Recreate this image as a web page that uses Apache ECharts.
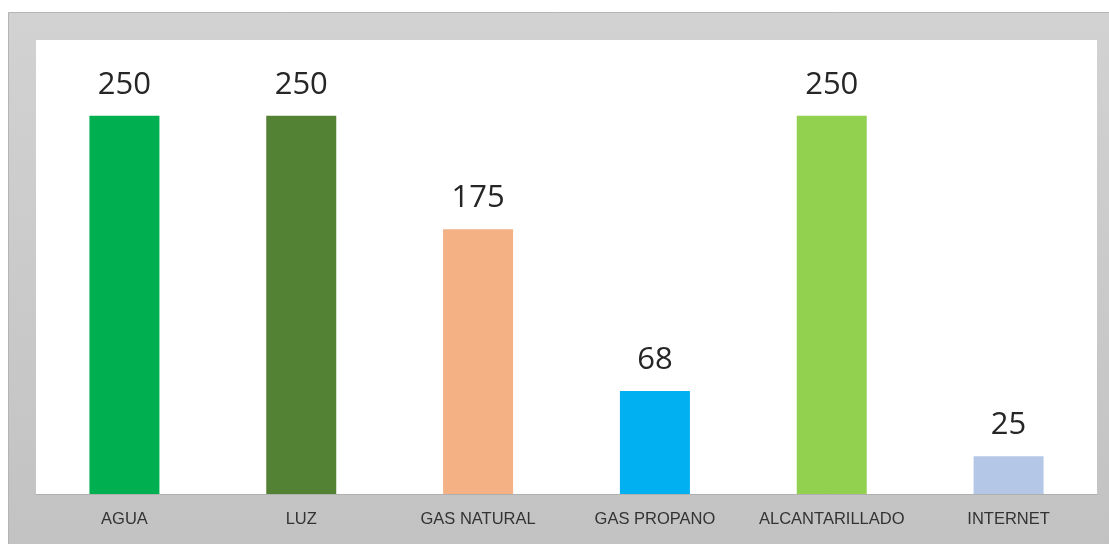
<!DOCTYPE html>
<html>
<head>
<meta charset="utf-8">
<script src="https://cdn.jsdelivr.net/npm/echarts@6/dist/echarts.min.js"></script>
<style>
html,body{margin:0;padding:0;background:#fff;}
#chart{width:1109px;height:544px;}
</style>
</head>
<body>
<div id="chart"></div>
<script>
var categories = ['AGUA', 'LUZ', 'GAS NATURAL', 'GAS PROPANO', 'ALCANTARILLADO', 'INTERNET'];
var values = [250, 250, 175, 68, 250, 25];
var barColors = ['#00b050', '#548235', '#f4b183', '#00b0f0', '#92d050', '#b4c7e7'];

var chart = echarts.init(document.getElementById('chart'), null, {renderer: 'canvas'});
chart.setOption({
  animation: false,
  backgroundColor: '#ffffff',
  graphic: [{
    type: 'rect',
    z: -10,
    shape: {x: 8.5, y: 12.5, width: 1110, height: 540},
    style: {
      fill: new echarts.graphic.LinearGradient(0, 0, 0, 1, [
        {offset: 0, color: '#d2d2d2'},
        {offset: 1, color: '#c2c2c2'}
      ]),
      stroke: '#b4b4b4',
      lineWidth: 1
    }
  }],
  grid: {
    show: true,
    left: 36, top: 40, width: 1061, height: 454,
    backgroundColor: '#ffffff',
    borderWidth: 0
  },
  xAxis: {
    type: 'category',
    data: categories,
    axisLine: {show: true, lineStyle: {color: '#b0b0b0', width: 1}},
    axisTick: {show: false},
    axisLabel: {
      interval: 0,
      hideOverlap: false,
      color: '#333333',
      fontFamily: 'Liberation Sans, sans-serif',
      fontSize: 16.5,
      margin: 17
    }
  },
  yAxis: {
    type: 'value',
    min: 0, max: 300,
    show: false,
    splitLine: {show: false}
  },
  series: [{
    type: 'bar',
    barWidth: 70,
    data: values.map(function (v, i) { return {value: v, itemStyle: {color: barColors[i]}}; }),
    label: {
      show: true,
      position: 'top',
      distance: 15,
      color: '#262626',
      fontFamily: 'Open Sans, sans-serif',
      fontSize: 31
    }
  }]
});
</script>
</body>
</html>
